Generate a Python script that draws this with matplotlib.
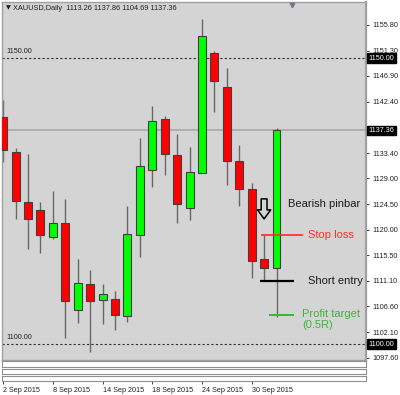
import matplotlib
matplotlib.use("Agg")
import matplotlib.pyplot as plt
from matplotlib.transforms import blended_transform_factory

# ---- data ----
bar_index = list(range(23))
opens  = [1139.66, 1133.54, 1124.80, 1123.46, 1118.68, 1121.24, 1106.03, 1110.57, 1107.67, 1107.95,
          1104.93, 1119.03, 1130.50, 1139.37, 1133.02, 1123.86, 1129.93, 1150.85, 1145.01, 1132.02,
          1127.13, 1114.84, 1113.26]
highs  = [1142.70, 1134.35, 1133.20, 1124.80, 1126.83, 1125.38, 1114.89, 1112.92, 1110.47, 1109.35,
          1124.16, 1136.10, 1141.69, 1139.89, 1136.69, 1134.42, 1156.80, 1151.20, 1148.23, 1134.77,
          1128.13, 1119.14, 1137.86]
lows   = [1131.90, 1121.83, 1116.59, 1115.89, 1118.40, 1101.08, 1103.75, 1098.68, 1103.47, 1102.48,
          1103.83, 1115.24, 1127.53, 1129.52, 1121.24, 1121.76, 1129.93, 1140.64, 1127.88, 1124.21,
          1111.62, 1111.22, 1104.69]
closes = [1133.95, 1125.08, 1121.83, 1119.14, 1121.24, 1107.50, 1110.70, 1107.55, 1108.82, 1105.10,
          1119.21, 1131.20, 1139.07, 1133.25, 1124.56, 1130.05, 1153.88, 1146.01, 1131.97, 1127.08,
          1114.59, 1113.26, 1137.36]
date_tick_bars = [0, 4, 8, 12, 16, 20]
date_labels = ["2 Sep 2015", "8 Sep 2015", "14 Sep 2015", "18 Sep 2015", "24 Sep 2015", "30 Sep 2015"]
price_ticks = [1155.80, 1151.30, 1146.90, 1142.40, 1137.90, 1133.40, 1129.00, 1124.50, 1120.00,
               1115.50, 1111.10, 1106.60, 1102.10, 1097.60]
level_lines = [1150.00, 1100.00]
bid_price = 1137.36
title = "XAUUSD,Daily  1113.26 1137.86 1104.69 1137.36"
stop_loss = 1119.14
short_entry = 1111.00
profit_target = 1105.10

FONT = ["Liberation Sans", "DejaVu Sans"]
plt.rcParams["font.family"] = FONT

W, H = 400, 395
fig = plt.figure(figsize=(W / 100, H / 100), dpi=100, facecolor="white")

def rect(x0, y0, x1, y1):
    return [x0 / W, 1 - y1 / H, (x1 - x0) / W, (y1 - y0) / H]

ax = fig.add_axes(rect(2, 2, 366, 360))
bg = "#d4d4d4"
ax.set_facecolor(bg)
XL = (-0.09, 29.2)
ax.set_xlim(*XL)
ax.set_ylim(1097.23, 1159.82)

for s in ax.spines.values():
    s.set_color("#a0a0a0")
    s.set_linewidth(1.0)
ax.spines["right"].set_linewidth(1.6)

# level lines
for lv in level_lines:
    ax.axhline(lv, color="#303030", lw=0.8, ls=(0, (2, 2)), zorder=1)
    ax.text(0.3, lv + 0.5, f"{lv:.2f}", fontsize=5.2, color="#202020", ha="left", va="bottom")
ax.axhline(bid_price, color="#a3a8b0", lw=1.2, zorder=1)

# candles
body_w = 0.64
for i, o, h, l, c in zip(bar_index, opens, highs, lows, closes):
    ax.vlines(i, l, h, color="#686868", lw=1.0, zorder=2)
    col = "#00ff00" if c >= o else "#ff0000"
    ax.bar(i, c - o, bottom=o, width=body_w, color=col, edgecolor="#404040", lw=0.8, zorder=3)

# annotations
ax.hlines(stop_loss, 20.75, 24.15, color="#ff2a2a", lw=1.2, zorder=4)
ax.text(24.5, stop_loss, "Stop loss", color="#ff2a2a", fontsize=8, va="center", ha="left")
ax.hlines(short_entry, 20.67, 23.43, color="black", lw=1.6, zorder=4)
ax.text(24.5, short_entry, "Short entry", color="#1a1a1a", fontsize=8, va="center", ha="left")
ax.hlines(profit_target, 21.4, 23.4, color="#3cb43c", lw=1.4, zorder=4)
ax.text(24.05, profit_target + 1.0, "Profit target\n(0.5R)", color="#3cb43c", fontsize=8,
        va="top", ha="left", linespacing=1.05)
ax.text(22.9, 1124.45, "Bearish pinbar", color="#1a1a1a", fontsize=8, va="center", ha="left")
ax.annotate("", xy=(21, 1121.9), xytext=(21, 1125.4),
            arrowprops=dict(arrowstyle="simple,head_length=0.65,head_width=0.95,tail_width=0.42",
                            mutation_scale=10, fc=bg, ec="black", lw=1.1,
                            shrinkA=0, shrinkB=0), zorder=5)

# shift marker
ax.plot([0.797], [0.992], marker="v", ms=3.2, color="#6a7b8c", transform=ax.transAxes,
        clip_on=False, zorder=6)

# right price axis
ax.set_xticks([])
ax.yaxis.tick_right()
ax.set_yticks(price_ticks)
# the 1137.90 label sits under the bid-price box in the reference
ax.set_yticklabels(["" if abs(p - bid_price) < 1 else f"{p:.2f}" for p in price_ticks])
ax.tick_params(axis="y", length=2.5, width=0.6, pad=2, labelsize=5.2, colors="#202020")

trans = blended_transform_factory(ax.transAxes, ax.transData)
for lv in level_lines + [bid_price]:
    ax.text(1.007, lv, f"{lv:.2f}", transform=trans, fontsize=5.2, color="white",
            ha="left", va="center", zorder=10,
            bbox=dict(boxstyle="square,pad=0.2", fc="black", ec="black"))

# empty indicator strips + date axis
strips = [(361, 367), (369, 374), (376, 381)]
for k, (y0, y1) in enumerate(strips):
    sa = fig.add_axes(rect(2, y0, 366, y1))
    sa.set_facecolor("white")
    sa.set_xlim(*XL)
    sa.set_yticks([])
    for s in sa.spines.values():
        s.set_color("#909090")
        s.set_linewidth(0.8)
    if k < len(strips) - 1:
        sa.set_xticks([])
    else:
        sa.set_xticks(date_tick_bars)
        sa.set_xticklabels(date_labels, ha="left")
        sa.tick_params(axis="x", length=2.5, width=0.6, pad=1.5, labelsize=5.2, colors="#202020")
        for lab in sa.get_xticklabels():
            lab.set_horizontalalignment("left")

fig.text(6 / W, 1 - 8 / H, "▼", fontsize=4.5, color="#202020", va="center", ha="left",
         family=["DejaVu Sans"])
fig.text(13 / W, 1 - 8 / H, title, fontsize=5.3, color="#202020", va="center", ha="left")

fig.savefig("out.png", dpi=100, facecolor="white")
